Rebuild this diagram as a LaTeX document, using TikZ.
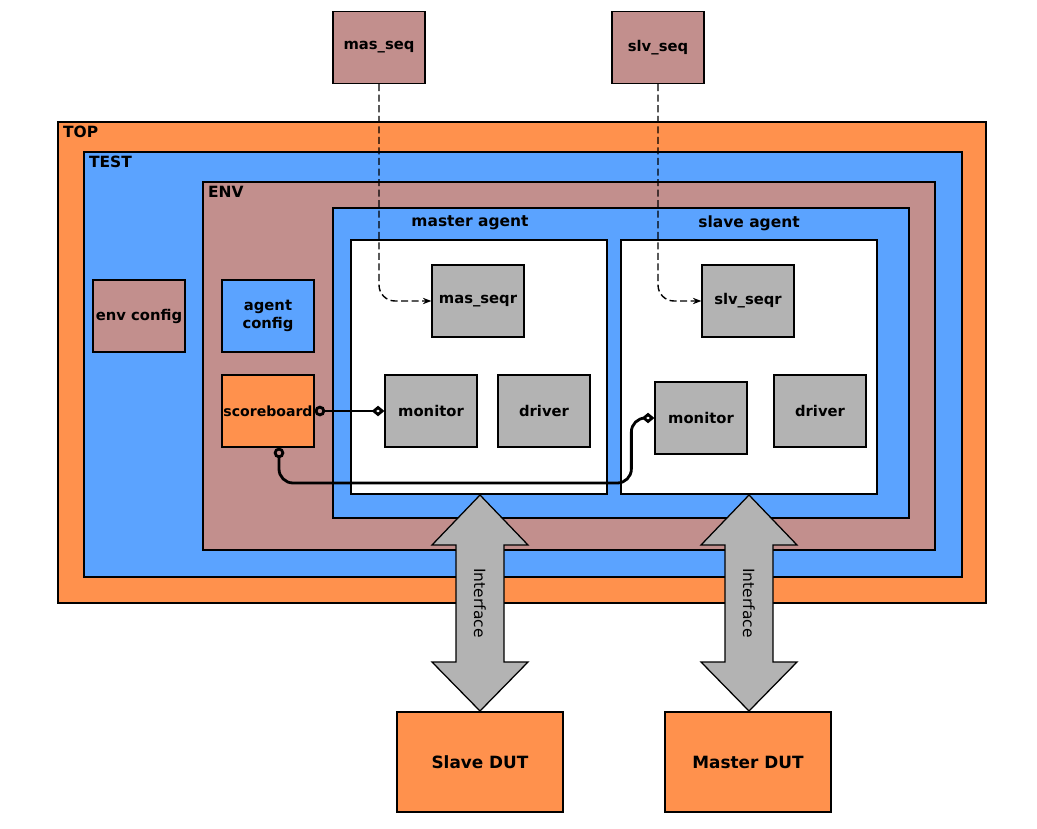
\documentclass[tikz,border=0pt]{standalone}
\usepackage{fontspec}
\setmainfont{DejaVu Sans}
\usetikzlibrary{arrows.meta,calc}
\definecolor{topc}{HTML}{FF914D}
\definecolor{testc}{HTML}{5BA3FF}
\definecolor{envc}{HTML}{C28F8D}
\definecolor{compc}{HTML}{B3B3B3}
\tikzset{
  frame/.style={draw, line width=1.2pt},
  comp/.style={draw, line width=0.9pt, fill=compc, minimum width=2.3cm, minimum height=1.8cm, inner sep=0pt, align=center, font=\bfseries\fontsize{10.5}{12.5}\selectfont},
  dut/.style={comp, fill=topc, minimum width=4.15cm, minimum height=2.5cm, font=\bfseries\fontsize{12}{14}\selectfont},
  title/.style={anchor=north west, inner sep=2pt, font=\bfseries\fontsize{11}{13}\selectfont},
  seqlink/.style={line width=1pt, dash pattern=on 5pt off 2.5pt, -{Stealth[length=6pt,width=4.5pt]}, rounded corners=0.4cm},
  tlmlink/.style={line width=2pt, {Circle[open,length=7.5pt]}-{Diamond[open,length=9pt,width=7.5pt]}, rounded corners=0.35cm},
}
\begin{document}
\begin{tikzpicture}[x=0.025cm, y=-0.025cm]
  \useasboundingbox (0,0) rectangle (1037,828);

  % nested containers
  \draw[frame, fill=topc]  (58,122) rectangle (986,603);
  \node[title] (toplbl) at (60,123) {TOP};
  \draw[frame, fill=testc] (84,152) rectangle (962,577);
  \node[title] (testlbl) at (86,153) {TEST};
  \draw[frame, fill=envc]  (203,182) rectangle (935,550);
  \node[title] (envlbl) at (205,183) {ENV};
  \draw[frame, fill=testc] (333,208) rectangle (909,518);
  \node[title, anchor=center] (mlbl) at (470,223) {master agent};
  \node[title, anchor=center] (slbl) at (749,223) {slave agent};
  \draw[frame, fill=white] (351,240) rectangle (607,494);
  \draw[frame, fill=white] (621,240) rectangle (877,494);

  % components
  \node[comp, fill=envc]  (envcfg) at (139,316) {env config};
  \node[comp, fill=testc] (agtcfg) at (268,316) {agent\\config};
  \node[comp, fill=topc, font=\bfseries] (score) at (268,411) {scoreboard};

  \node[comp] (mseqr) at (478,301) {mas\_seqr};
  \node[comp] (mmon)  at (431,411) {monitor};
  \node[comp] (mdrv)  at (544,411) {driver};

  \node[comp] (sseqr) at (748,301) {slv\_seqr};
  \node[comp] (smon)  at (701,418) {monitor};
  \node[comp] (sdrv)  at (820,411) {driver};

  \node[comp, fill=envc] (mseq) at (379,47.5) {mas\_seq};
  \node[comp, fill=envc] (sseq) at (658,47.5) {slv\_seq};

  \node[dut] (sdut) at (480,762) {Slave DUT};
  \node[dut] (mdut) at (748,762) {Master DUT};

  % interfaces
  \foreach \cx/\nm in {480/ifm, 749/ifs} {
    \draw[line width=0.9pt, fill=compc] (\cx,495) -- ({\cx+48},545) -- ({\cx+24},545)
      -- ({\cx+24},662) -- ({\cx+48},662) -- (\cx,711) -- ({\cx-48},662)
      -- ({\cx-24},662) -- ({\cx-24},545) -- ({\cx-48},545) -- cycle;
    \node[rotate=-90, font=\fontsize{11}{13}\selectfont] (\nm) at (\cx,603) {Interface};
  }

  % connections
  \draw[seqlink] (mseq.south) |- (mseqr.west);
  \draw[seqlink] (sseq.south) |- (sseqr.west);
  \draw[tlmlink] (score.east) -- (mmon.west);
  \draw[tlmlink] ($(score.south)+(11,0)$) |- ($(smon.west)+(-23,65)$) |- (smon.west);
\end{tikzpicture}
\end{document}
